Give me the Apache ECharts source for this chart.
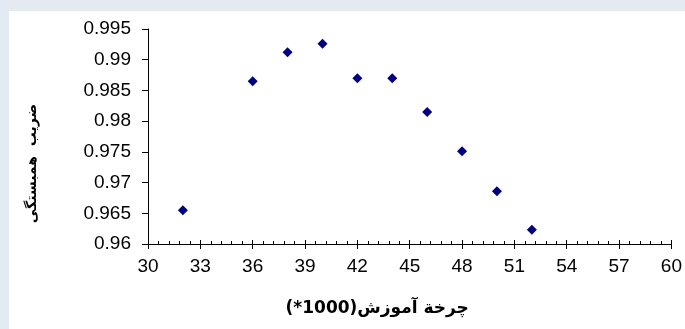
<!DOCTYPE html>
<html>
<head>
<meta charset="utf-8">
<script src="https://cdn.jsdelivr.net/npm/echarts@6/dist/echarts.min.js"></script>
<style>
html,body{margin:0;padding:0;background:#fff;}
#c{width:685px;height:329px;}
</style>
</head>
<body>
<div id="c"></div>
<script>
const xValues = [32, 36, 38, 40, 42, 44, 46, 48, 50, 52];
const yValues = [0.9655, 0.9865, 0.9912, 0.9926, 0.9870, 0.9870, 0.9815, 0.9751, 0.9686, 0.9623];
const xTitle = '\u202Bچرخة آموزش(1000*)\u202C';
const yTitle = 'ضریب  همبستگی';

const data = xValues.map((x, i) => [x, yValues[i]]);
const font = "'Liberation Sans', Arial, 'DejaVu Sans', sans-serif";

const chart = echarts.init(document.getElementById('c'), null, {renderer: 'canvas'});
chart.setOption({
  animation: false,
  backgroundColor: '#ffffff',
  graphic: [
    {type: 'rect', left: 0, top: 0, shape: {width: 685, height: 11}, style: {fill: '#e5e9f0'}, z: -10},
    {type: 'rect', left: 0, top: 0, shape: {width: 9, height: 329}, style: {fill: '#e2eaf4'}, z: -10},
    {type: 'text', left: 25, top: 104, rotation: Math.PI / 2, style: {text: yTitle, font: "bold 14px 'DejaVu Sans', sans-serif", fill: '#000'}, z: 5}
  ],
  grid: {left: 148, right: 13, top: 29, bottom: 85, containLabel: false},
  xAxis: [
    {
      type: 'value', min: 30, max: 60, interval: 3, position: 'bottom',
      axisLine: {show: true, lineStyle: {color: '#000', width: 1}},
      axisTick: {show: true, inside: false, length: 5, lineStyle: {color: '#000'}},
      axisLabel: {show: true, margin: 13, color: '#000', fontSize: 19, fontFamily: font},
      splitLine: {show: false},
      name: xTitle, nameLocation: 'middle', nameGap: 56,
      nameTextStyle: {color: '#000', fontSize: 17, fontWeight: 'bold', fontFamily: "'DejaVu Sans', sans-serif", padding: [0, 65, 0, 0]}
    },
    {
      type: 'value', min: 30, max: 60, interval: 3, position: 'bottom',
      axisLine: {show: false},
      axisTick: {show: true, inside: true, length: 4, lineStyle: {color: '#000'}},
      minorTick: {show: true, splitNumber: 5, length: 3, lineStyle: {color: '#000'}},
      axisLabel: {show: false},
      splitLine: {show: false}
    }
  ],
  yAxis: {
    type: 'value', min: 0.96, max: 0.995, interval: 0.005,
    axisLine: {show: true, lineStyle: {color: '#000', width: 1}},
    axisTick: {show: true, inside: false, length: 6, lineStyle: {color: '#000'}},
    axisLabel: {margin: 17, color: '#000', fontSize: 19, fontFamily: font,
      formatter: v => String(parseFloat(v.toFixed(3)))},
    splitLine: {show: false}
  },
  series: [{
    type: 'scatter', xAxisIndex: 0, data: data,
    symbol: 'diamond', symbolSize: [10, 10],
    itemStyle: {color: '#000080', opacity: 1}
  }]
});
</script>
</body>
</html>
